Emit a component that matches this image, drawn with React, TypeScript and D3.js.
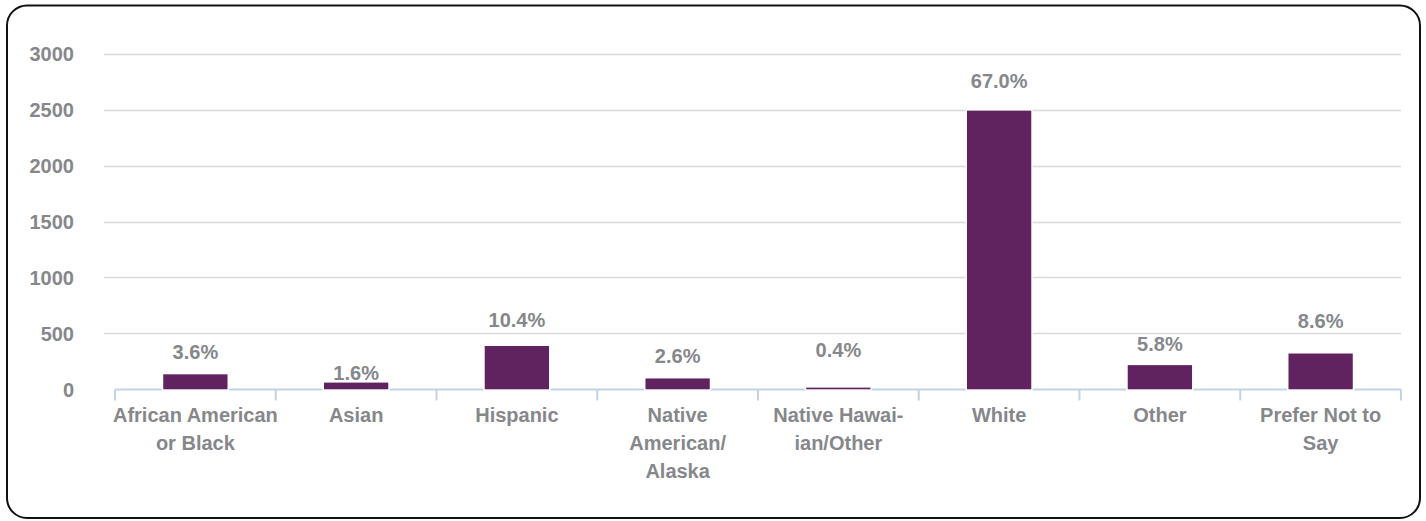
import React, { useEffect, useRef } from 'react'
import * as d3 from 'd3'

// race / ethnicity of respondents
const categories: string[][] = [
  ['African American', 'or Black'],
  ['Asian'],
  ['Hispanic'],
  ['Native', 'American/', 'Alaska'],
  ['Native Hawai-', 'ian/Other'],
  ['White'],
  ['Other'],
  ['Prefer Not to', 'Say'],
]
const counts = [134, 60, 387, 97, 15, 2492, 216, 320]
const percents = ['3.6%', '1.6%', '10.4%', '2.6%', '0.4%', '67.0%', '5.8%', '8.6%']
const yTicks = [0, 500, 1000, 1500, 2000, 2500, 3000]

// how far each data label sits above its bar (px), as placed in the original
const labelLift = [15, 3, 19, 15, 31, 23, 14, 26]

const W = 1426
const H = 521
const FONT = '"Liberation Sans", Arial, sans-serif'
const GREY = '#86878b'

export default function App() {
  const ref = useRef<SVGSVGElement>(null)

  useEffect(() => {
    const svg = d3.select(ref.current)
    svg.selectAll('*').remove()

    const x = d3.scaleBand<number>()
      .domain(d3.range(categories.length))
      .range([115, 1401])
      .paddingInner(0).paddingOuter(0)
    const y = d3.scaleLinear().domain([0, 3000]).range([389.3, 53.8])

    // frame
    svg.append('rect')
      .attr('x', 7).attr('y', 5.5)
      .attr('width', 1413).attr('height', 512.5)
      .attr('rx', 20).attr('ry', 20)
      .attr('fill', '#fff').attr('stroke', '#111').attr('stroke-width', 2)

    // gridlines
    svg.append('g').selectAll('line')
      .data(yTicks.filter(d => d > 0))
      .join('line')
      .attr('x1', 104).attr('x2', 1401)
      .attr('y1', d => Math.round(y(d)) + 0.5).attr('y2', d => Math.round(y(d)) + 0.5)
      .attr('stroke', '#d9d9d9').attr('stroke-width', 1.3)

    const txt = (sel: any) => sel
      .style('font-family', FONT).style('font-weight', 'bold')
      .style('font-size', '20px').attr('fill', GREY)

    // y labels
    svg.append('g').selectAll('text')
      .data(yTicks)
      .join('text')
      .attr('x', 74).attr('y', d => y(d) + 7.5)
      .attr('text-anchor', 'end')
      .call(txt)
      .text(d => d)

    // x axis with ticks at the band edges
    const axisY = Math.round(y(0)) + 0.5
    svg.append('line')
      .attr('x1', 115).attr('x2', 1401).attr('y1', axisY).attr('y2', axisY)
      .attr('stroke', '#c3d3e6').attr('stroke-width', 2)
    svg.append('g').selectAll('line')
      .data(d3.range(categories.length + 1))
      .join('line')
      .attr('x1', i => (i < categories.length ? x(i)! : x.range()[1]))
      .attr('x2', i => (i < categories.length ? x(i)! : x.range()[1]))
      .attr('y1', axisY).attr('y2', axisY + 11)
      .attr('stroke', '#c3d3e6').attr('stroke-width', 2)

    // bars, with a thin white gap cut out of the axis round each one
    const bw = x.bandwidth() * 0.4
    const bx = (i: number) => x(i)! + (x.bandwidth() - bw) / 2
    svg.append('g').selectAll('rect')
      .data(counts)
      .join('rect')
      .attr('x', (d, i) => bx(i) - 1.5)
      .attr('y', d => y(d) - 1.5)
      .attr('width', bw + 3)
      .attr('height', d => y(0) - y(d) + 3)
      .attr('fill', '#fff')
    svg.append('g').selectAll('rect')
      .data(counts)
      .join('rect')
      .attr('x', (d, i) => bx(i))
      .attr('y', d => y(d))
      .attr('width', bw)
      .attr('height', d => y(0) - y(d))
      .attr('fill', '#612360')

    // data labels
    svg.append('g').selectAll('text')
      .data(percents)
      .join('text')
      .attr('x', (d, i) => x(i)! + x.bandwidth() / 2)
      .attr('y', (d, i) => y(counts[i]) - labelLift[i])
      .attr('text-anchor', 'middle')
      .call(txt)
      .text(d => d)

    // category labels
    const cat = svg.append('g').selectAll('text')
      .data(categories)
      .join('text')
      .attr('text-anchor', 'middle')
      .call(txt)
    cat.each(function (lines, i) {
      d3.select(this).selectAll('tspan')
        .data(lines)
        .join('tspan')
        .attr('x', x(i)! + x.bandwidth() / 2)
        .attr('y', (l, j) => 421.7 + j * 28.3)
        .text(l => l)
    })
  }, [])

  return (
    <div style={{ position: 'absolute', left: 0, top: 0 }}>
      <svg ref={ref} width={W} height={H} style={{ display: 'block' }} />
    </div>
  )
}
